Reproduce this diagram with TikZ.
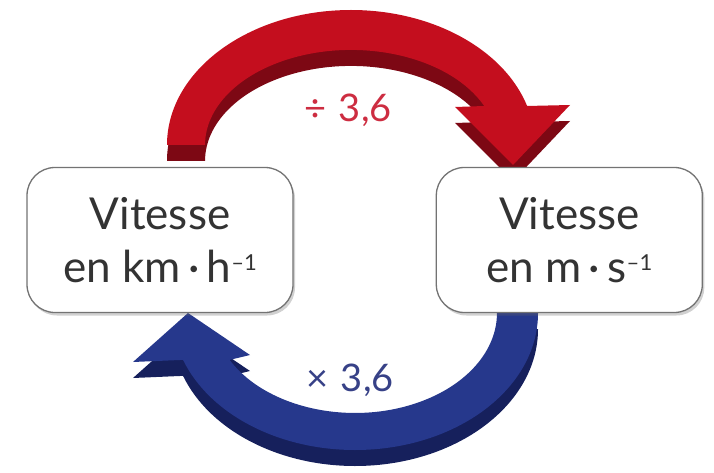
\documentclass[tikz,border=0pt]{standalone}
\usepackage{fontspec}
\setmainfont{Lato}
\usetikzlibrary{positioning, shadows}
\definecolor{redface}{RGB}{196,14,30}
\definecolor{redside}{RGB}{125,8,20}
\definecolor{blueface}{RGB}{38,56,140}
\definecolor{blueside}{RGB}{22,32,92}
\definecolor{redtxt}{RGB}{205,45,65}
\definecolor{bluetxt}{RGB}{55,65,135}
\definecolor{boxline}{RGB}{115,115,115}
\newcommand{\minusone}{\raisebox{12pt}{\fontsize{22}{22}\selectfont –1}}

\begin{document}
\begin{tikzpicture}[
  x=1pt, y=-1pt,
  bx/.style={rectangle, draw=boxline, line width=1.3pt, rounded corners=28pt,
             fill=white, minimum width=266pt, minimum height=145pt,
             align=center, text=black!80, font=\fontsize{44}{53}\selectfont,
             drop shadow={shadow xshift=2pt, shadow yshift=-3pt,
                          opacity=.3, fill=black!60}},
  el/.style={font=\fontsize{38}{44}\selectfont, inner sep=0pt}
]
\useasboundingbox (0,0) rectangle (714,473);
% red arrow, top (side first, then face)
\foreach \s/\c in {16/redside, 0/redface}
  \fill[\c, shift={(0,\s)}]
    (167,145) arc[start angle=180, end angle=343.2, x radius=184, y radius=135]
    -- (570,105) -- (513,165) -- (455,107) -- (484.2,106)
    arc[start angle=335.8, end angle=180, x radius=146, y radius=95] -- cycle;
% blue arrow, bottom
\foreach \s/\c in {16/blueside, 0/blueface}
  \fill[\c, shift={(0,\s)}]
    (538,313) arc[start angle=0, end angle=160, x radius=183, y radius=137]
    -- (133,362) -- (188,313) -- (250,355) -- (229.6,359.9)
    arc[start angle=152, end angle=0, x radius=142, y radius=100] -- cycle;
% boxes
\node[bx] (kmh) at (160,240) {Vitesse\\en km\,·\,h\minusone};
\node[bx, right=142pt of kmh] (ms) {Vitesse\\en m\,·\,s\minusone};
% labels
\node[el, text=redtxt]  (div) at (348,110) {÷\,\,3,6};
\node[el, text=bluetxt] (mul) at (350,380) {×\,\,3,6};
\end{tikzpicture}
\end{document}
